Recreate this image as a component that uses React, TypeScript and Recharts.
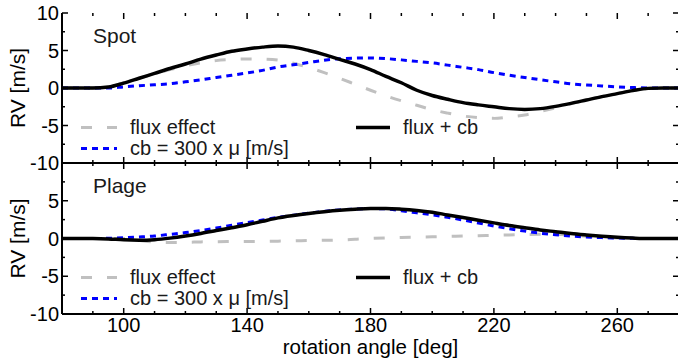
import React from 'react';
import { LineChart, Line, XAxis, YAxis, Legend } from 'recharts';

// rotation angle [deg], one sample every 5 degrees
const angles = [
  80, 85, 90, 95, 100, 105, 110, 115, 120, 125, 130, 135, 140, 145, 150, 155, 160, 165, 170, 175, 180,
  185, 190, 195, 200, 205, 210, 215, 220, 225, 230, 235, 240, 245, 250, 255, 260, 265, 270, 275, 280,
];

// Spot panel (RV in m/s)
const spotFlux = [
  0, 0, 0, 0.15, 0.7, 1.3, 1.9, 2.45, 2.95, 3.35, 3.65, 3.8, 3.87, 3.85, 3.72, 3.3, 2.72, 2.05, 1.3, 0.5,
  -0.3, -1.05, -1.7, -2.3, -2.9, -3.35, -3.73, -3.95, -4.05, -3.85, -3.6, -3.15, -2.65, -2.1, -1.62, -1.15,
  -0.75, -0.35, -0.05, 0, 0,
];
const spotCb = [
  0, 0, 0, 0, 0.15, 0.3, 0.43, 0.57, 0.82, 1.08, 1.4, 1.7, 2.0, 2.35, 2.8, 3.1, 3.4, 3.7, 3.9, 3.98, 4.0,
  3.92, 3.75, 3.55, 3.35, 3.05, 2.75, 2.45, 2.05, 1.7, 1.4, 1.1, 0.82, 0.56, 0.4, 0.28, 0.15, 0.06, 0, 0, 0,
];
const spotTotal = [
  0, 0, 0, 0.12, 0.65, 1.3, 1.95, 2.6, 3.2, 3.85, 4.4, 4.9, 5.2, 5.45, 5.6, 5.45, 5.0, 4.45, 3.82, 3.2,
  2.45, 1.55, 0.7, -0.3, -1.0, -1.5, -1.95, -2.25, -2.5, -2.75, -2.85, -2.75, -2.45, -2.05, -1.6, -1.15,
  -0.75, -0.35, -0.05, 0, 0,
];

// Plage panel (RV in m/s)
const plageFlux = [
  0, 0, 0, 0, 0, -0.25, -0.47, -0.52, -0.5, -0.45, -0.42, -0.4, -0.4, -0.38, -0.35, -0.32, -0.27, -0.24,
  -0.2, -0.1, 0, 0.08, 0.14, 0.18, 0.22, 0.27, 0.32, 0.37, 0.42, 0.47, 0.52, 0.56, 0.57, 0.45, 0.3, 0.15,
  0.05, 0, 0, 0, 0,
];
const plageCb = [
  0, 0, 0, 0.03, 0.1, 0.2, 0.33, 0.55, 0.78, 1.05, 1.38, 1.75, 2.1, 2.45, 2.8, 3.08, 3.35, 3.58, 3.78, 3.9,
  3.96, 3.92, 3.67, 3.4, 3.13, 2.8, 2.45, 2.05, 1.65, 1.3, 0.98, 0.7, 0.5, 0.33, 0.2, 0.12, 0.06, 0.02, 0, 0, 0,
];
const plageTotal = [
  0, 0, 0, -0.05, -0.18, -0.22, -0.15, 0.05, 0.33, 0.67, 1.05, 1.43, 1.82, 2.28, 2.73, 3.05, 3.32, 3.55,
  3.74, 3.87, 3.96, 3.97, 3.88, 3.72, 3.48, 3.12, 2.78, 2.42, 2.07, 1.73, 1.43, 1.14, 0.9, 0.66, 0.47, 0.3,
  0.16, 0.06, 0, 0, 0,
];

const xTicks = [80, 90, 100, 110, 120, 130, 140, 150, 160, 170, 180, 190, 200, 210, 220, 230, 240, 250, 260, 270, 280];
const xMajor = [100, 140, 180, 220, 260];
const yTicks = [-10, -7.5, -5, -2.5, 0, 2.5, 5, 7.5, 10];
const yMajor = [-10, -5, 0, 5, 10];

const FONT = '"Liberation Sans", Arial, Helvetica, sans-serif';
const CHART_W = 700;
const PLOT_L = 62;
const PLOT_R = 679;
const PLOT_TOP = 13;

const SERIES = [
  { key: 'flux', name: 'flux effect', color: '#c0c0c0', width: 3, dash: '11 15' },
  { key: 'cb', name: 'cb = 300 x \u03bc [m/s]', color: '#0000ff', width: 3, dash: '6 5' },
  { key: 'total', name: 'flux + cb', color: '#000000', width: 3.5, dash: undefined },
];

// legend slots by series key: x of the sample line, its length, gap to text, row
const LEGEND_SLOTS: Record<string, { x: number; w: number; gap: number; row: number }> = {
  flux: { x: 81, w: 36, gap: 13, row: 0 },
  cb: { x: 81, w: 36, gap: 13, row: 1 },
  total: { x: 356, w: 34, gap: 13, row: 0 },
};

function makeRows(flux: number[], cb: number[], total: number[]) {
  return angles.map((angle, i) => ({ angle, flux: flux[i], cb: cb[i], total: total[i] }));
}

function XTick(props: any) {
  const { x, payload, plotBottom, labels } = props;
  const v = payload.value;
  const major = xMajor.includes(v);
  const len = major ? 6 : 3;
  return (
    <g>
      <line x1={x} x2={x} y1={plotBottom} y2={plotBottom - len} stroke="#000" strokeWidth={1.5} />
      <line x1={x} x2={x} y1={PLOT_TOP} y2={PLOT_TOP + len} stroke="#000" strokeWidth={1.5} />
      {labels && major && (
        <text x={x} y={plotBottom + 17.5} textAnchor="middle" fontSize={20} fill="#000" fontFamily={FONT}>
          {v}
        </text>
      )}
    </g>
  );
}

function YTick(props: any) {
  const { y, payload, labels } = props;
  const v = payload.value;
  const major = yMajor.includes(v);
  const len = major ? 6 : 3;
  return (
    <g>
      <line x1={PLOT_L} x2={PLOT_L + len} y1={y} y2={y} stroke="#000" strokeWidth={1.5} />
      <line x1={PLOT_R} x2={PLOT_R - len} y1={y} y2={y} stroke="#000" strokeWidth={1.5} />
      {labels.includes(v) && (
        <text x={PLOT_L - 3} y={y + 7} textAnchor="end" fontSize={20} fill="#000" fontFamily={FONT}>
          {v}
        </text>
      )}
    </g>
  );
}

function PanelLegend(props: any) {
  const { payload, rowY } = props;
  return (
    <div style={{ position: 'absolute', left: 0, top: 0, width: CHART_W, height: 0 }}>
      {(payload || []).map((entry: any) => {
        const slot = LEGEND_SLOTS[entry.dataKey];
        if (!slot) return null;
        const line = entry.payload || {};
        return (
          <div
            key={entry.dataKey}
            style={{
              position: 'absolute',
              left: slot.x,
              top: rowY[slot.row] - 9.5,
              height: 19,
              display: 'flex',
              alignItems: 'center',
              whiteSpace: 'nowrap',
            }}
          >
            <svg width={slot.w} height={19} style={{ display: 'block' }}>
              <line
                x1={0}
                x2={slot.w}
                y1={9.5}
                y2={9.5}
                stroke={entry.color}
                strokeWidth={line.strokeWidth || 3}
                strokeDasharray={line.strokeDasharray}
              />
            </svg>
            <span
              style={{
                marginLeft: slot.gap,
                fontSize: 20,
                lineHeight: '19px',
                height: 19,
                color: '#1a1a1a',
                fontFamily: FONT,
              }}
            >
              {entry.value}
            </span>
          </div>
        );
      })}
    </div>
  );
}

interface PanelProps {
  title: string;
  rows: any[];
  top: number;
  height: number;
  xAxisHeight: number;
  bottomMargin: number;
  bottomPanel: boolean;
  yLabels: number[];
  legendRows: number[];
}

function Panel({ title, rows, top, height, xAxisHeight, bottomMargin, bottomPanel, yLabels, legendRows }: PanelProps) {
  const plotBottom = height - bottomMargin - xAxisHeight;
  const plotMid = (PLOT_TOP + plotBottom) / 2;
  return (
    <div style={{ position: 'absolute', left: 0, top, width: CHART_W, height }}>
      <LineChart
        width={CHART_W}
        height={height}
        data={rows}
        margin={{ top: PLOT_TOP, right: CHART_W - PLOT_R, bottom: bottomMargin, left: 0 }}
      >
        <XAxis
          dataKey="angle"
          type="number"
          domain={[80, 280]}
          ticks={xTicks}
          interval={0}
          allowDataOverflow
          height={xAxisHeight}
          tickLine={false}
          tickSize={0}
          tickMargin={0}
          axisLine={{ stroke: '#000', strokeWidth: 2 }}
          tick={(p: any) => <XTick {...p} plotBottom={plotBottom} labels={bottomPanel} />}
          label={
            bottomPanel
              ? {
                  content: () => (
                    <text
                      x={(PLOT_L + PLOT_R) / 2}
                      y={plotBottom + 39.5}
                      textAnchor="middle"
                      fontSize={20.5}
                      fill="#000"
                      fontFamily={FONT}
                    >
                      rotation angle [deg]
                    </text>
                  ),
                }
              : undefined
          }
        />
        <XAxis
          xAxisId="top"
          orientation="top"
          dataKey="angle"
          type="number"
          domain={[80, 280]}
          mirror
          height={0}
          tick={false}
          tickLine={false}
          axisLine={{ stroke: '#000', strokeWidth: 2 }}
        />
        <YAxis
          yAxisId="v"
          type="number"
          domain={[-10, 10]}
          ticks={yTicks}
          interval={0}
          allowDataOverflow
          width={PLOT_L}
          tickLine={false}
          tickSize={0}
          tickMargin={0}
          axisLine={{ stroke: '#000', strokeWidth: 2 }}
          tick={(p: any) => <YTick {...p} labels={yLabels} />}
          label={{
            content: () => (
              <text
                x={25}
                y={plotMid}
                transform={`rotate(-90 25 ${plotMid})`}
                textAnchor="middle"
                fontSize={21}
                fill="#000"
                fontFamily={FONT}
              >
                RV [m/s]
              </text>
            ),
          }}
        />
        <YAxis
          yAxisId="vr"
          orientation="right"
          type="number"
          domain={[-10, 10]}
          mirror
          width={0}
          tick={false}
          tickLine={false}
          axisLine={{ stroke: '#000', strokeWidth: 2 }}
        />
        <Legend
          layout="horizontal"
          verticalAlign="middle"
          align="center"
          wrapperStyle={{ position: 'absolute', left: 0, top: 0, width: CHART_W, height: 0 }}
          content={(p: any) => <PanelLegend {...p} rowY={legendRows} />}
        />
        {SERIES.map(s => (
          <Line
            key={s.key}
            yAxisId="v"
            dataKey={s.key}
            name={s.name}
            type="monotone"
            stroke={s.color}
            strokeWidth={s.width}
            strokeDasharray={s.dash}
            dot={false}
            activeDot={false}
            isAnimationActive={false}
          />
        ))}
      </LineChart>
      <div
        style={{
          position: 'absolute',
          left: 93,
          top: PLOT_TOP + 11,
          fontSize: 21,
          lineHeight: '24px',
          color: '#1a1a1a',
          fontFamily: FONT,
        }}
      >
        {title}
      </div>
    </div>
  );
}

export default function App() {
  const spotRows = makeRows(spotFlux, spotCb, spotTotal);
  const plageRows = makeRows(plageFlux, plageCb, plageTotal);
  return (
    <div
      style={{
        position: 'absolute',
        left: 0,
        top: 0,
        width: 678,
        height: 363,
        overflow: 'hidden',
        background: '#fff',
        fontFamily: FONT,
      }}
    >
      <Panel
        title="Spot"
        rows={spotRows}
        top={0}
        height={200}
        xAxisHeight={30}
        bottomMargin={7}
        bottomPanel={false}
        yLabels={[-10, -5, 0, 5, 10]}
        legendRows={[127, 148]}
      />
      <Panel
        title="Plage"
        rows={plageRows}
        top={150}
        height={213}
        xAxisHeight={49}
        bottomMargin={0}
        bottomPanel={true}
        yLabels={[-10, -5, 0, 5]}
        legendRows={[127.5, 148.5]}
      />
    </div>
  );
}
